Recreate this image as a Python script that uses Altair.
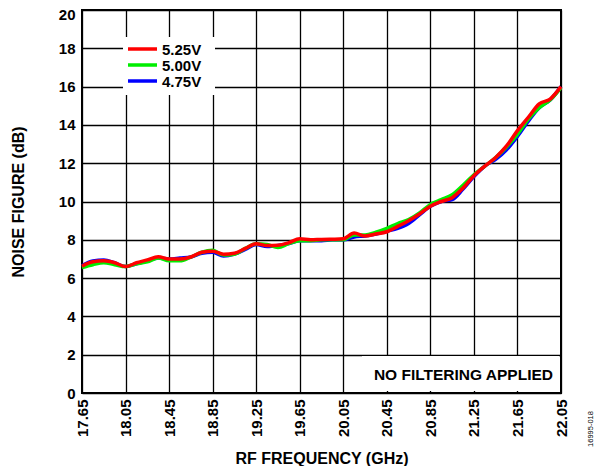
import altair as alt
import pandas as pd

freq = [17.65, 17.75, 17.85, 17.95, 18.05, 18.15, 18.25, 18.35, 18.45, 18.55,
        18.65, 18.75, 18.85, 18.95, 19.05, 19.15, 19.25, 19.35, 19.45, 19.55,
        19.65, 19.75, 19.85, 19.95, 20.05, 20.15, 20.25, 20.35, 20.45, 20.55,
        20.65, 20.75, 20.85, 20.95, 21.05, 21.15, 21.25, 21.35, 21.45, 21.55,
        21.65, 21.75, 21.85, 21.95, 22.05]

nf_475 = [6.65, 6.90, 6.95, 6.80, 6.60, 6.75, 6.90, 7.05, 7.00, 7.05,
          7.10, 7.30, 7.35, 7.15, 7.25, 7.50, 7.75, 7.65, 7.70, 7.80,
          7.95, 7.95, 7.95, 8.00, 8.00, 8.15, 8.20, 8.30, 8.45, 8.60,
          8.85, 9.30, 9.75, 10.00, 10.10, 10.65, 11.30, 11.85, 12.20, 12.70,
          13.40, 14.20, 14.90, 15.30, 16.00]

nf_500 = [6.55, 6.70, 6.80, 6.70, 6.60, 6.75, 6.85, 7.05, 6.90, 6.90,
          7.10, 7.35, 7.45, 7.20, 7.25, 7.55, 7.80, 7.75, 7.60, 7.80,
          7.95, 7.95, 8.00, 8.00, 8.00, 8.25, 8.25, 8.40, 8.60, 8.85,
          9.05, 9.40, 9.85, 10.10, 10.35, 10.85, 11.40, 11.85, 12.30, 12.85,
          13.50, 14.30, 14.90, 15.30, 15.95]

nf_525 = [6.62, 6.85, 6.90, 6.80, 6.60, 6.80, 6.95, 7.12, 7.00, 7.00,
          7.10, 7.35, 7.40, 7.25, 7.30, 7.55, 7.80, 7.70, 7.72, 7.85,
          8.05, 8.00, 8.02, 8.03, 8.05, 8.35, 8.20, 8.30, 8.42, 8.70,
          9.00, 9.35, 9.75, 10.00, 10.20, 10.70, 11.35, 11.85, 12.30, 12.90,
          13.70, 14.40, 15.10, 15.35, 16.00]

series_names = ["5.25V", "5.00V", "4.75V"]
series_colors = ["#FF0000", "#00EE00", "#0000FF"]
x_ticks = [17.65, 18.05, 18.45, 18.85, 19.25, 19.65, 20.05, 20.45, 20.85, 21.25, 21.65, 22.05]
y_ticks = [0, 2, 4, 6, 8, 10, 12, 14, 16, 18, 20]

FONT = "Liberation Sans"

rows = []
for name, vals in [("4.75V", nf_475), ("5.00V", nf_500), ("5.25V", nf_525)]:
    for f, v in zip(freq, vals):
        rows.append({"freq": f, "nf": v, "series": name})
df = pd.DataFrame(rows)

W, H = 479, 383

x_enc = alt.X("freq:Q",
              scale=alt.Scale(domain=[17.65, 22.05], nice=False, zero=False),
              axis=alt.Axis(values=x_ticks, format=".2f", labelAngle=-90,
                            grid=True, ticks=False, domain=False,
                            title="RF FREQUENCY (GHz)", titleFontSize=16,
                            titleX=W / 2, titleY=70, titleBaseline="alphabetic",
                            labelPadding=6, labelFontSize=15))
y_enc = alt.Y("nf:Q",
              scale=alt.Scale(domain=[0, 20], nice=False),
              axis=alt.Axis(values=y_ticks, title="NOISE FIGURE (dB)",
                            grid=True, ticks=False, domain=False,
                            titleFontSize=16, titleX=-64, titleY=H / 2,
                            titleAngle=270, titleAlign="center", titleBaseline="middle",
                            labelOffset={"condition": {"test": "datum.value == 20", "value": 4}, "value": 0},
                            labelPadding=7, labelFontSize=15))

lines = alt.Chart(df).mark_line(strokeWidth=3.5, interpolate="monotone").encode(
    x=x_enc,
    y=y_enc,
    color=alt.Color("series:N",
                    scale=alt.Scale(domain=series_names, range=series_colors),
                    legend=None),
    detail="series:N",
)

one = pd.DataFrame({"a": [0]})

# white box behind the legend (hides gridlines)
legend_box = alt.Chart(one).mark_rect(color="white").encode(
    x=alt.value(41), x2=alt.value(133), y=alt.value(27), y2=alt.value(85))

legend_layers = []
for i, (name, col) in enumerate(zip(series_names, series_colors)):
    yy = 39 + 16 * i
    legend_layers.append(
        alt.Chart(one).mark_rule(color=col, strokeWidth=3.5).encode(
            x=alt.value(46), x2=alt.value(75), y=alt.value(yy)))
    legend_layers.append(
        alt.Chart(one).mark_text(text=name, font=FONT, fontWeight="bold", fontSize=15,
                                 align="left", baseline="middle", color="black").encode(
            x=alt.value(80), y=alt.value(yy + 1)))

note_box = alt.Chart(one).mark_rect(color="white").encode(
    x=alt.value(280), x2=alt.value(477), y=alt.value(346), y2=alt.value(381))
note_text = alt.Chart(one).mark_text(text="NO FILTERING APPLIED", font=FONT, fontWeight="bold",
                                     fontSize=15.5, align="right", baseline="middle",
                                     color="black").encode(
    x=alt.value(471), y=alt.value(365))

side_text = alt.Chart(one).mark_text(text="16995-018", font=FONT, fontSize=7.5, angle=270,
                                     align="center", baseline="middle", color="black").encode(
    x=alt.value(509), y=alt.value(419))

chart = alt.layer(
    lines, legend_box, note_box, *legend_layers, note_text, side_text
).properties(
    width=W, height=H,
    autosize=alt.AutoSizeParams(type="none"),
    padding={"left": 74, "top": 2, "right": 604 - 16 - 74 - W, "bottom": 468 - 10 - 2 - H},
).configure_view(
    stroke="black", strokeWidth=2
).configure_axis(
    gridColor="black", gridWidth=1.3, gridOpacity=1,
    labelFont=FONT, labelFontWeight="bold", labelColor="black",
    titleFont=FONT, titleFontWeight="bold", titleColor="black",
)

chart.save("out.html", embed_options={"renderer": "svg", "actions": False})
